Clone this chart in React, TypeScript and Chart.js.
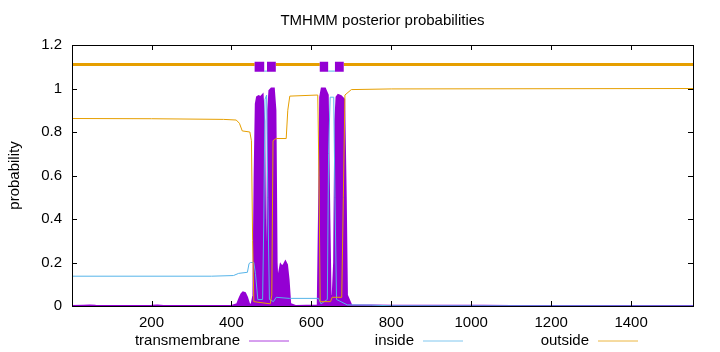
import React, { useEffect, useRef } from "react";
import { Chart, registerables } from "chart.js";

Chart.register(...registerables);

const TITLE = "TMHMM posterior probabilities";
const Y_TITLE = "probability";
const X_MIN = 1;
const X_MAX = 1555;
const Y_MIN = 0;
const Y_MAX = 1.2;
const X_TICKS = [200, 400, 600, 800, 1000, 1200, 1400];
const Y_TICKS = [0, 0.2, 0.4, 0.6, 0.8, 1, 1.2];

const LEGEND_LABELS = ["transmembrane", "inside", "outside"];

// transmembrane posterior probability (position, value)
const TM_POS = [1, 30, 45, 60, 100, 200, 215, 230, 400, 414, 420, 425, 429, 434, 439, 444, 450, 455, 458, 461, 464, 468, 473, 478, 482, 485, 488, 490, 492, 495, 500, 506, 510, 513, 516, 519, 523, 527, 531, 535, 539, 543, 547, 560, 616, 619, 622, 626, 634, 641, 645, 648, 653, 657, 660, 663, 667, 674, 682, 686, 689, 700, 750, 800, 1000, 1030, 1100, 1555];
const TM_VAL = [0, 0.001, 0.002, 0.001, 0, 0.001, 0.002, 0, 0, 0.008, 0.035, 0.055, 0.063, 0.06, 0.04, 0.01, 0.003, 0.05, 0.6, 0.93, 0.96, 0.965, 0.96, 0.97, 0.85, 0.15, 0.05, 0.4, 0.9, 0.99, 1.0, 1.0, 0.9, 0.2, 0.06, 0.15, 0.19, 0.18, 0.19, 0.204, 0.19, 0.12, 0.01, 0, 0.002, 0.4, 0.96, 1.0, 1.0, 0.97, 0.4, 0.05, 0.03, 0.2, 0.85, 0.96, 0.97, 0.965, 0.95, 0.5, 0.05, 0.003, 0.002, 0.001, 0.001, 0.001, 0, 0];

// inside probability
const IN_POS = [1, 350, 405, 418, 440, 444, 448, 456, 460, 466, 478, 481, 484, 488, 491, 495, 505, 512, 545, 618, 624, 640, 643, 647, 656, 659, 663, 690, 750, 800, 1555];
const IN_VAL = [0.137, 0.137, 0.14, 0.15, 0.155, 0.195, 0.2, 0.2, 0.15, 0.03, 0.03, 0.4, 0.95, 0.97, 0.5, 0.03, 0.02, 0.04, 0.035, 0.035, 0.01, 0.03, 0.7, 0.96, 0.96, 0.5, 0.03, 0.005, 0.004, 0.001, 0];

// outside probability
const OUT_POS = [1, 200, 380, 412, 420, 427, 446, 450, 453, 456, 497, 501, 504, 512, 537, 541, 546, 616, 619, 622, 648, 652, 676, 680, 684, 700, 800, 1555];
const OUT_VAL = [0.862, 0.861, 0.858, 0.855, 0.84, 0.805, 0.8, 0.76, 0.3, 0.02, 0.01, 0.05, 0.76, 0.77, 0.77, 0.9, 0.965, 0.97, 0.6, 0.02, 0.02, 0.04, 0.04, 0.5, 0.97, 0.995, 0.998, 1.0];

// predicted topology segments (start, end) drawn along the top
const TOP_TM = [[458, 482], [489, 511], [621, 642], [659, 681]];
const TOP_IN = [[482, 489], [642, 659]];
const TOP_OUT = [[1, 458], [511, 621], [681, 1555]];
const TOP_TM_LEVEL = 1.1;
const TOP_IN_LEVEL = 1.08;
const TOP_OUT_LEVEL = 1.11;

const PURPLE = "#9400d3";
const CYAN = "#56b4e9";
const ORANGE = "#e69f00";
const FONT = "'Liberation Sans', Arial, sans-serif";

function pts(xs: number[], ys: number[]) {
  return xs.map((x, i) => ({ x, y: ys[i] }));
}

function segs(list: number[][], level: number) {
  const out: any[] = [];
  list.forEach(([a, b]) => {
    out.push({ x: a, y: level });
    out.push({ x: b, y: level });
    out.push({ x: b, y: null });
  });
  return out;
}

const framePlugin = {
  id: "gpFrame",
  afterDatasetsDraw(chart: any) {
    const { ctx, chartArea: a, scales } = chart;
    ctx.save();
    ctx.strokeStyle = "#000";
    ctx.lineWidth = 1;
    // inward ticks
    ctx.beginPath();
    Y_TICKS.forEach((v) => {
      const y = Math.round(scales.y.getPixelForValue(v)) + 0.5;
      ctx.moveTo(a.left, y);
      ctx.lineTo(a.left + 5, y);
      ctx.moveTo(a.right, y);
      ctx.lineTo(a.right - 5, y);
    });
    X_TICKS.forEach((v) => {
      const x = Math.round(scales.x.getPixelForValue(v)) + 0.5;
      ctx.moveTo(x, a.bottom);
      ctx.lineTo(x, a.bottom - 5);
      ctx.moveTo(x, a.top);
      ctx.lineTo(x, a.top + 5);
    });
    ctx.stroke();
    ctx.strokeRect(a.left + 0.5, a.top + 0.5, a.right - a.left, a.bottom - a.top);

    // title
    ctx.fillStyle = "#000";
    ctx.font = `15px ${FONT}`;
    ctx.textAlign = "center";
    ctx.textBaseline = "middle";
    ctx.fillText(TITLE, (a.left + a.right) / 2, 21);

    // y title
    ctx.save();
    ctx.translate(15, (a.top + a.bottom) / 2);
    ctx.rotate(-Math.PI / 2);
    ctx.fillText(Y_TITLE, 0, 0);
    ctx.restore();

    // legend
    const colors = [PURPLE, CYAN, ORANGE];
    const textEnds = [240, 414, 589];
    const ly = 341;
    ctx.textAlign = "right";
    LEGEND_LABELS.forEach((t, i) => {
      ctx.fillStyle = "#000";
      ctx.fillText(t, textEnds[i], ly);
      ctx.strokeStyle = colors[i];
      ctx.globalAlpha = 0.75;
      ctx.beginPath();
      ctx.moveTo(textEnds[i] + 9, ly);
      ctx.lineTo(textEnds[i] + 49, ly);
      ctx.stroke();
      ctx.globalAlpha = 1;
    });
    ctx.restore();
  },
};

export default function App() {
  const ref = useRef<HTMLCanvasElement | null>(null);
  useEffect(() => {
    if (!ref.current) return;
    const chart = new Chart(ref.current, {
      type: "line",
      data: {
        datasets: [
          {
            label: "outside",
            data: pts(OUT_POS, OUT_VAL),
            borderColor: ORANGE,
            borderWidth: 1,
            pointRadius: 0,
            fill: false,
            order: 1,
          },
          {
            label: "inside",
            data: pts(IN_POS, IN_VAL),
            borderColor: CYAN,
            borderWidth: 1,
            pointRadius: 0,
            fill: false,
            order: 2,
          },
          {
            label: "top-tm",
            data: segs(TOP_TM, TOP_TM_LEVEL),
            borderColor: PURPLE,
            borderWidth: 10,
            borderCapStyle: "butt",
            pointRadius: 0,
            spanGaps: false,
            fill: false,
            order: 3,
          },
          {
            label: "top-in",
            data: segs(TOP_IN, TOP_IN_LEVEL),
            borderColor: CYAN,
            borderWidth: 1,
            pointRadius: 0,
            spanGaps: false,
            fill: false,
            order: 4,
          },
          {
            label: "top-out",
            data: segs(TOP_OUT, TOP_OUT_LEVEL),
            borderColor: ORANGE,
            borderWidth: 3,
            borderCapStyle: "butt",
            pointRadius: 0,
            spanGaps: false,
            fill: false,
            order: 5,
          },
          {
            label: "transmembrane",
            data: pts(TM_POS, TM_VAL),
            borderColor: PURPLE,
            backgroundColor: PURPLE,
            borderWidth: 2,
            pointRadius: 0,
            fill: "origin",
            order: 6,
          },
        ],
      },
      options: {
        animation: false,
        responsive: false,
        parsing: false as any,
        normalized: true,
        layout: { padding: { left: 0, top: 45, right: 27, bottom: 0 } },
        plugins: { legend: { display: false }, tooltip: { enabled: false }, title: { display: false } },
        elements: { line: { tension: 0 } },
        scales: {
          x: {
            type: "linear",
            min: X_MIN,
            max: X_MAX,
            grid: { display: false, drawTicks: false },
            border: { display: false },
            afterBuildTicks: (s: any) => {
              s.ticks = X_TICKS.map((v) => ({ value: v }));
            },
            afterFit: (s: any) => {
              s.height = 46;
            },
            ticks: {
              autoSkip: false,
              maxRotation: 0,
              padding: 8,
              color: "#000",
              font: { family: FONT, size: 15 },
              callback: (v: any) => String(v),
            },
          },
          y: {
            type: "linear",
            min: Y_MIN,
            max: Y_MAX,
            grid: { display: false, drawTicks: false },
            border: { display: false },
            afterBuildTicks: (s: any) => {
              s.ticks = Y_TICKS.map((v) => ({ value: v }));
            },
            afterFit: (s: any) => {
              s.width = 72;
            },
            ticks: {
              padding: 10,
              color: "#000",
              font: { family: FONT, size: 15 },
              callback: (v: any) => String(Math.round(Number(v) * 10) / 10),
            },
          },
        },
      },
      plugins: [framePlugin],
    } as any);
    return () => chart.destroy();
  }, []);
  return (
    <div style={{ position: "absolute", left: 0, top: 0, width: 720, height: 352, background: "#fff" }}>
      <canvas ref={ref} width={720} height={352} style={{ width: 720, height: 352, display: "block" }} />
    </div>
  );
}
